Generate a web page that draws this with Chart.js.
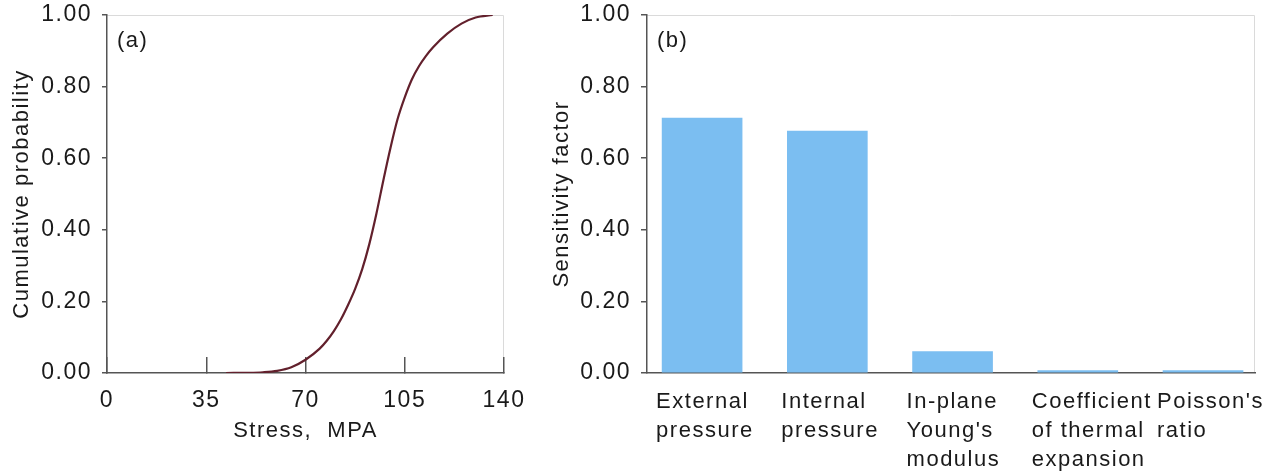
<!DOCTYPE html>
<html><head><meta charset="utf-8">
<script src="https://cdn.jsdelivr.net/npm/chart.js@4.4.1/dist/chart.umd.min.js"></script>
<style>
html,body{margin:0;padding:0;background:#fff;overflow:hidden;}
#wrap{position:relative;width:1270px;height:473px;background:#fff;}
canvas{position:absolute;top:0;}
#c1{left:0;}
#c2{left:530px;}
</style></head><body>
<div id="wrap">
<canvas id="c1" width="540" height="473"></canvas>
<canvas id="c2" width="740" height="473"></canvas>
</div>
<script>
// ---- Panel (a) data ----
const stress = [42, 50, 55, 60, 65, 70, 75, 77.5, 80, 82.5, 85, 87.5, 90, 92.5, 95, 97.5, 100, 102.5, 105, 107.5, 110, 112.5, 115, 120, 125, 130, 136];
const cumulativeProbability = [0, 0.0005, 0.002, 0.006, 0.016, 0.037, 0.068, 0.09, 0.117, 0.15, 0.19, 0.235, 0.29, 0.36, 0.445, 0.54, 0.63, 0.71, 0.77, 0.82, 0.857, 0.886, 0.91, 0.948, 0.976, 0.993, 1.0];
const stressTicks = [0, 35, 70, 105, 140];
const probabilityTicks = [0, 0.2, 0.4, 0.6, 0.8, 1.0];

// ---- Panel (b) data ----
const categories = [
  ['External', 'pressure'],
  ['Internal', 'pressure'],
  ['In-plane', "Young's", 'modulus'],
  ['Coefficient', 'of thermal', 'expansion'],
  ["Poisson's", 'ratio']
];
const sensitivity = [0.712, 0.676, 0.06, 0.007, 0.007];
const sensitivityTicks = [0, 0.2, 0.4, 0.6, 0.8, 1.0];

const FONT = '"Liberation Sans", Arial, Helvetica, sans-serif';
const TXT = '#1a1a1a';
const AX = '#555';
const LS = '1.5px';

const spacingPlugin = {
  id: 'spacing',
  beforeUpdate(c) { c.ctx.letterSpacing = LS; },
  beforeLayout(c) { c.ctx.letterSpacing = LS; },
  beforeDraw(c) { c.ctx.letterSpacing = LS; }
};
const framePlugin = {
  id: 'frame',
  beforeDraw(c, args, opts) {
    const { ctx, chartArea: a } = c;
    ctx.save();
    ctx.strokeStyle = '#dadada';
    ctx.lineWidth = 1;
    ctx.beginPath();
    ctx.moveTo(a.left, Math.round(a.top) + 0.5);
    ctx.lineTo(Math.round(a.right) - 0.5, Math.round(a.top) + 0.5);
    ctx.lineTo(Math.round(a.right) - 0.5, a.bottom);
    ctx.stroke();
    ctx.restore();
  },
  afterDraw(c, args, opts) {
    const { ctx, chartArea: a } = c;
    ctx.save();
    ctx.letterSpacing = LS;
    ctx.font = '22px ' + FONT;
    ctx.fillStyle = TXT;
    ctx.textBaseline = 'middle';
    ctx.textAlign = 'left';
    ctx.fillText(opts.text, a.left + 10, a.top + 26);
    ctx.restore();
  }
};

function fixTicks(values) {
  return function (scale) {
    scale.ticks = values.map(v => ({ value: v }));
  };
}

// ---- Chart (a) ----
new Chart(document.getElementById('c1'), {
  type: 'line',
  data: {
    datasets: [{
      data: stress.map((s, i) => ({ x: s, y: cumulativeProbability[i] })),
      borderColor: '#62202c',
      borderWidth: 2.2,
      pointRadius: 0,
      cubicInterpolationMode: 'monotone',
      fill: false
    }]
  },
  plugins: [spacingPlugin, framePlugin],
  options: {
    responsive: false,
    animation: false,
    layout: { padding: { top: 15, right: 36, left: 0, bottom: 0 } },
    plugins: { legend: { display: false }, tooltip: { enabled: false }, frame: { text: '(a)' } },
    scales: {
      x: {
        type: 'linear', min: 0, max: 140,
        afterBuildTicks: fixTicks(stressTicks),
        afterFit(s) { s.height = 100; s.paddingLeft = 0; s.paddingRight = 0; },
        grid: { drawOnChartArea: false, drawTicks: true, tickLength: -16, color: AX, lineWidth: 1.5 },
        border: { display: true, color: AX, width: 1.5 },
        ticks: { color: TXT, font: { family: FONT, size: 23 }, padding: 30, maxRotation: 0, autoSkip: false },
        title: { display: true, text: 'Stress,  MPA', color: TXT, font: { family: FONT, size: 22 }, padding: { top: 0, bottom: 29 } }
      },
      y: {
        type: 'linear', min: 0, max: 1,
        afterBuildTicks: fixTicks(probabilityTicks),
        afterFit(s) { s.width = 107; s.paddingTop = 0; s.paddingBottom = 0; },
        grid: { drawOnChartArea: false, tickLength: 5, color: AX, lineWidth: 1.5 },
        border: { display: true, color: AX, width: 1.5 },
        ticks: { color: TXT, font: { family: FONT, size: 23 }, padding: 10, callback: v => v.toFixed(2) },
        title: { display: true, text: 'Cumulative probability', color: TXT, font: { family: FONT, size: 22 }, padding: { top: 9, bottom: 0 } }
      }
    }
  }
});

// ---- Chart (b) ----
new Chart(document.getElementById('c2'), {
  type: 'bar',
  data: {
    datasets: [{
      data: sensitivity.map((v, i) => ({ x: i + 1, y: v })),
      backgroundColor: '#7bbef1',
      borderWidth: 0,
      barThickness: 80
    }]
  },
  plugins: [spacingPlugin, framePlugin],
  options: {
    responsive: false,
    animation: false,
    layout: { padding: { top: 15, right: 15, left: 0, bottom: 0 } },
    plugins: { legend: { display: false }, tooltip: { enabled: false }, frame: { text: '(b)' } },
    scales: {
      x: {
        type: 'linear', min: 0.56, max: 5.415, offset: false,
        afterBuildTicks(s) { s.ticks = categories.map((c, i) => ({ value: i + 1 })); },
        afterFit(s) { s.height = 100; s.paddingLeft = 0; s.paddingRight = 0; },
        grid: { display: false, offset: false },
        border: { display: true, color: AX, width: 1.5 },
        ticks: {
          color: TXT, font: { family: FONT, size: 22, lineHeight: 1.3 }, padding: 7,
          align: 'start', labelOffset: -46, maxRotation: 0, autoSkip: false,
          callback: v => categories[Math.round(v) - 1]
        }
      },
      y: {
        type: 'linear', min: 0, max: 1,
        afterBuildTicks: fixTicks(sensitivityTicks),
        afterFit(s) { s.width = 117; s.paddingTop = 0; s.paddingBottom = 0; },
        grid: { drawOnChartArea: false, tickLength: 6, color: AX, lineWidth: 1.5 },
        border: { display: true, color: AX, width: 1.5 },
        ticks: { color: TXT, font: { family: FONT, size: 23 }, padding: 10, callback: v => v.toFixed(2) },
        title: { display: true, text: 'Sensitivity factor', color: TXT, font: { family: FONT, size: 22 }, padding: { top: 19, bottom: 0 } }
      }
    }
  }
});
</script>
</body></html>
